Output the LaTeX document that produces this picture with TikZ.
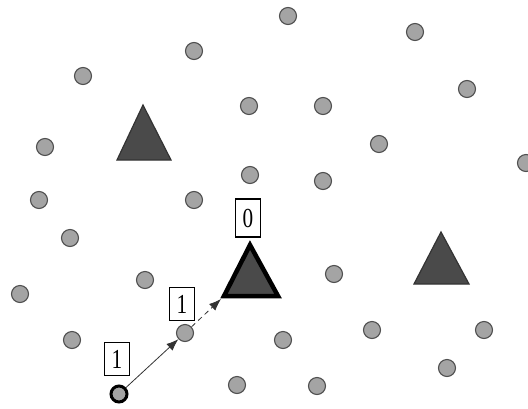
\documentclass[tikz,border=0pt]{standalone}
\usepackage{fontspec}
\setmainfont{Liberation Serif}
\usetikzlibrary{arrows.meta}
\definecolor{dotfill}{HTML}{A4A4A4}
\definecolor{dotline}{HTML}{505050}
\definecolor{trifill}{HTML}{4A4A4A}
\begin{document}
\begin{tikzpicture}[x=1pt,y=-1pt,
  dot/.style={circle,draw=dotline,fill=dotfill,line width=1.1pt,minimum size=17pt,inner sep=0pt},
  srcdot/.style={circle,draw=black,fill=dotfill,line width=3pt,minimum size=16pt,inner sep=0pt},
  tri/.style={draw=black!80,fill=trifill,line width=1.2pt,line join=miter},
  bigtri/.style={draw=black,fill=trifill,line width=4.5pt,line join=miter},
  lab/.style={draw=black,fill=white,line width=1.1pt,inner sep=0pt,minimum width=25pt,minimum height=33pt,font=\fontsize{25}{25}\selectfont},
  arr/.style={-{Latex[length=12pt,width=9pt]},line width=0.8pt,draw=black!80}]
\useasboundingbox (0,0) rectangle (528,408);
% dots
\foreach \n/\x/\y in {1/288/16,2/415/32,3/194/51,4/83/76,5/467/89,6/249/106,7/323/106,
  8/45/147,9/379/144,10/526/163,11/250/175,12/323/181,13/39/200,14/194/200,15/70/238,
  16/145/280,17/334/274,18/20/294,19/185/333,20/72/340,21/283/340,22/372/330,23/484/330,
  24/447/368,25/237/385,26/317/386}
  \node[dot] (c\n) at (\x,\y) {};
% triangles
\draw[tri] (143,105) -- (171,160) -- (117,160) -- cycle;
\draw[tri] (441,232) -- (469,284) -- (414,284) -- cycle;
\draw[bigtri] (250,245) -- (278,296) -- (224,296) -- cycle;
\coordinate (ttip) at (221,299);
% source
\node[srcdot] (src) at (119,394) {};
% arrows
\draw[arr] (src) -- (c19);
\draw[arr,dash pattern=on 5pt off 4pt] (c19) -- (ttip);
% labels
\node[lab,minimum height=38pt] (l0) at (248,218) {\scalebox{0.85}[1.1]{0}};
\node[lab] (l1) at (182,304) {\scalebox{0.85}[1.1]{1}};
\node[lab] (l2) at (117,359) {\scalebox{0.85}[1.1]{1}};
\end{tikzpicture}
\end{document}
